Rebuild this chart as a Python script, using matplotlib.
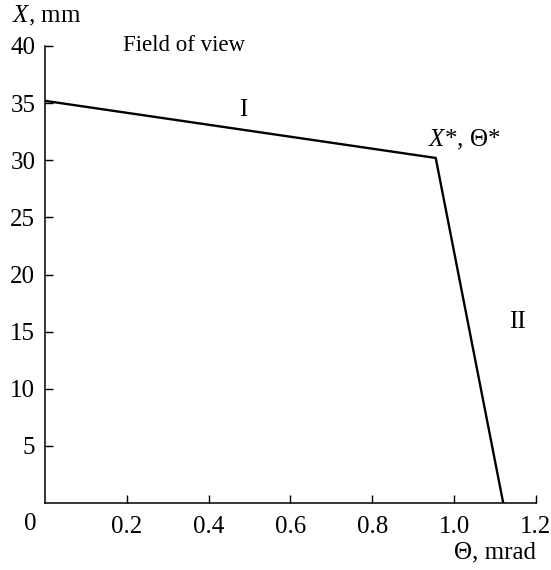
import matplotlib
matplotlib.use("Agg")
import matplotlib.pyplot as plt

plt.rcParams["font.family"] = ["Liberation Serif", "DejaVu Serif"]
plt.rcParams["mathtext.fontset"] = "custom"
plt.rcParams["mathtext.rm"] = "Liberation Serif"
plt.rcParams["mathtext.it"] = "Liberation Serif:italic"

# Polyline: field of view X vs angle Theta
theta = [0.0, 0.955, 1.12]
x_fov = [35.2, 30.2, 0.0]

x_ticks = [0.2, 0.4, 0.6, 0.8, 1.0, 1.2]
x_ticklabels = ["0.2", "0.4", "0.6", "0.8", "1.0", "1.2"]
y_ticks = [5, 10, 15, 20, 25, 30, 35, 40]

fig = plt.figure(figsize=(5.51, 5.70), dpi=100)
ax = fig.add_axes([0.0817, 0.1175, 0.891, 0.8018])

ax.plot(theta, x_fov, color="black", linewidth=1.7, solid_joinstyle="miter")

ax.set_xlim(0.0, 1.2)
ax.set_ylim(0.0, 40.0)
ax.set_xticks(x_ticks)
ax.set_xticklabels(x_ticklabels)
ax.set_yticks(y_ticks)
ax.tick_params(direction="in", length=6, width=1.0, labelsize=18)
ax.tick_params(axis="x", pad=9)
ax.tick_params(axis="y", pad=7)

for side in ("top", "right"):
    ax.spines[side].set_visible(False)
for side in ("left", "bottom"):
    ax.spines[side].set_linewidth(1.1)

# common origin label, sits left of the corner
ax.text(-0.03, -0.022, "0", transform=ax.transAxes, ha="center", va="top", fontsize=18)

# axis titles
ax.text(-0.067, 1.04, r"$X$, mm", transform=ax.transAxes, ha="left", va="bottom", fontsize=18)
ax.text(1.0, -0.085, "\u0398, mrad", transform=ax.transAxes, ha="right", va="top", fontsize=18)

# annotations
ax.text(0.34, 40.0, "Field of view", ha="center", va="center", fontsize=16.5)
ax.text(0.484, 34.4, "I", ha="center", va="center", fontsize=18)
ax.text(1.025, 31.8, "$X$*, \u0398*", ha="center", va="center", fontsize=18)
ax.text(1.155, 15.8, "II", ha="center", va="center", fontsize=18)

fig.savefig("out.png", dpi=100)
